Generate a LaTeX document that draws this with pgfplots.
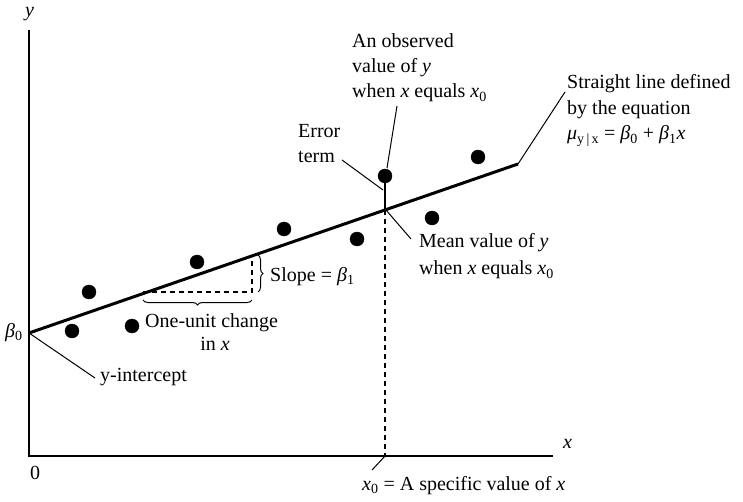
\documentclass[border=0pt]{standalone}
\usepackage{pgfplots}
\pgfplotsset{compat=1.18}
\usepackage{fontspec}
\setmainfont{Liberation Serif}
\usetikzlibrary{decorations.pathreplacing}
\newcommand{\vx}{\textit{x}}
\newcommand{\vy}{\textit{y}}
\begin{document}
\begin{tikzpicture}[every node/.append style={font=\fontsize{20}{25}\selectfont, inner sep=0pt, anchor=base west}]
\begin{axis}[scale only axis, width=743pt, height=502pt,
  xmin=0, xmax=743, ymin=0, ymax=502, y dir=reverse,
  hide axis, clip=false]
\path (axis cs:0,0) rectangle (axis cs:743,502);
% axes
\addplot[black, line width=1.5pt] coordinates {(29,30) (29,456) (553,456)};
% regression line
\addplot[black, line width=3pt] coordinates {(29,333) (518,164)};
% data points
\addplot[only marks, mark=*, mark size=7pt, black] coordinates {
(72,331) (89,292) (132,326) (197,262) (284,229) (357,239) (432,218) (478,157) (385,176)};
% x0 dashed
\addplot[black, line width=1.2pt, dash pattern=on 5pt off 4pt] coordinates {(385,210) (385,456)};
% error term
\addplot[black, line width=1.2pt] coordinates {(385,183) (385,210)};
% slope triangle
\addplot[black, line width=1.2pt, dash pattern=on 5pt off 4pt] coordinates {(143,292) (252,292) (252,256)};
% braces
\draw[black, line width=1pt, decorate, decoration={brace, amplitude=5pt}] (axis cs:258,255) -- (axis cs:258,292);
\draw[black, line width=1pt, decorate, decoration={brace, amplitude=5pt}] (axis cs:252,300) -- (axis cs:143,300);
% leaders
\addplot[black, line width=1pt] coordinates {(387,168) (397,106)};
\addplot[black, line width=1pt] coordinates {(383,190) (342,160)};
\addplot[black, line width=1pt] coordinates {(386,210) (411,239)};
\addplot[black, line width=1pt] coordinates {(518,164) (565,92)};
\addplot[black, line width=1pt] coordinates {(29,333) (95,378)};
\addplot[black, line width=1pt] coordinates {(385,456) (372,470)};
% texts
\node at (axis cs:352,48) {An observed};
\node at (axis cs:352,73) {value of \vy};
\node at (axis cs:352,98) {when \vx{} equals \vx\textsubscript{0}};
\node at (axis cs:298,138) {Error};
\node at (axis cs:298,163) {term};
\node at (axis cs:567,89) {Straight line defined};
\node at (axis cs:567,115) {by the equation};
\node at (axis cs:567,140) {\textit{μ}\textsubscript{y\,|\,x} = \textit{β}\textsubscript{0} + \textit{β}\textsubscript{1}\vx};
\node at (axis cs:419,248) {Mean value of \vy};
\node at (axis cs:419,275) {when \vx{} equals \vx\textsubscript{0}};
\node at (axis cs:270,281) {Slope = \textit{β}\textsubscript{1}};
\node at (axis cs:145,327) {One-unit change};
\node[anchor=base] at (axis cs:215,350) {in \vx};
\node at (axis cs:100,381) {y-intercept};
\node at (axis cs:5,337) {\textit{β}\textsubscript{0}};
\node at (axis cs:30,479) {0};
\node at (axis cs:563,448) {\vx};
\node at (axis cs:25,17) {\vy};
\node at (axis cs:362,490) {\vx\textsubscript{0} = A specific value of \vx};
\end{axis}
\end{tikzpicture}
\end{document}
